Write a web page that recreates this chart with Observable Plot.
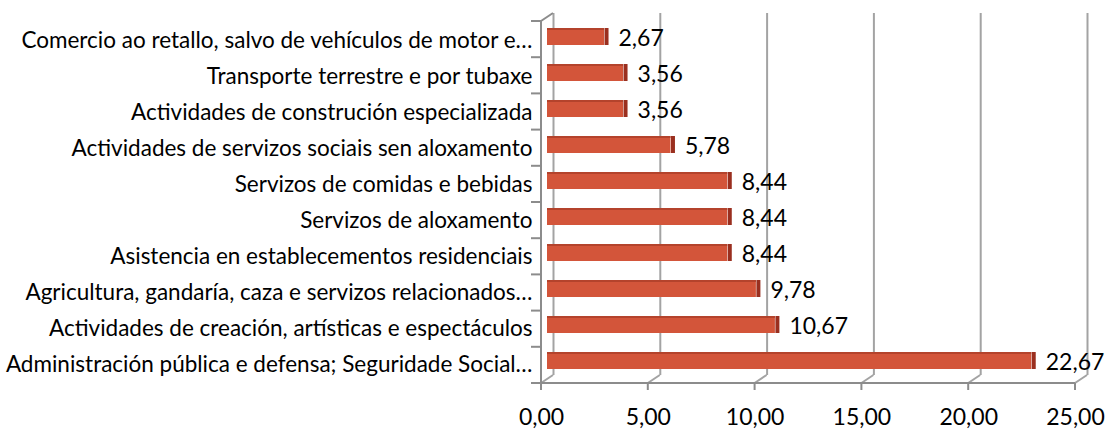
<!DOCTYPE html>
<html>
<head>
<meta charset="utf-8">
<script src="https://cdn.jsdelivr.net/npm/d3@7"></script>
<script src="https://cdn.jsdelivr.net/npm/@observablehq/plot@0.6"></script>
<style>
  html, body { margin: 0; padding: 0; background: #fff; }
  #chart svg { display: block; }
</style>
</head>
<body>
<div id="chart"></div>
<script>
// Sectors, top to bottom
const categories = [
  "Comercio ao retallo, salvo de vehículos de motor e…",
  "Transporte terrestre e por tubaxe",
  "Actividades de construción especializada",
  "Actividades de servizos sociais sen aloxamento",
  "Servizos de comidas e bebidas",
  "Servizos de aloxamento",
  "Asistencia en establecementos residenciais",
  "Agricultura, gandaría, caza e servizos relacionados…",
  "Actividades de creación, artísticas e espectáculos",
  "Administración pública e defensa; Seguridade Social…"
];
const values = [2.67, 3.56, 3.56, 5.78, 8.44, 8.44, 8.44, 9.78, 10.67, 22.67];
const xTicks = [0, 5, 10, 15, 20, 25];

const rows = categories.map((c, i) => ({category: c, value: values[i]}));

// Decimal comma formatting
const locale = d3.formatLocale({decimal: ",", thousands: ".", grouping: [3], currency: ["", " €"]});
const fmt = locale.format(".2f");

// Depth of the pseudo-3D box (back wall offset) and of the bars (half way)
const DEPTH_X = 12, DEPTH_Y = -8;
const BAR_DX = 6, BAR_DY = -4;
const GRID = "#a3a3a3";
const EDGE = "#8c8c8c";

// Left wall, floor edge, grid bends and tick marks drawn from the scales
function box3d(index, scales, values, dims) {
  const x = scales.x;
  const top = dims.marginTop;
  const bottom = dims.height - dims.marginBottom;
  const x0 = x(xTicks[0]);
  const x1 = x(xTicks[xTicks.length - 1]);
  const g = d3.create("svg:g").attr("fill", "none").attr("stroke-linejoin", "round");
  for (const t of xTicks) {
    // floor bend: back wall gridline foot to the front edge
    g.append("path")
      .attr("d", `M${x(t) + DEPTH_X},${bottom + DEPTH_Y}L${x(t)},${bottom}`)
      .attr("stroke", GRID).attr("stroke-width", 2);
    // tick below the front edge
    g.append("path")
      .attr("d", `M${x(t)},${bottom}L${x(t)},${bottom + 7}`)
      .attr("stroke", EDGE).attr("stroke-width", 2);
  }
  // front edge of the floor
  g.append("path")
    .attr("d", `M${x0},${bottom}L${x1},${bottom}`)
    .attr("stroke", EDGE).attr("stroke-width", 2);
  // front edge of the left wall with its top bend
  g.append("path")
    .attr("d", `M${x0 + DEPTH_X},${top + DEPTH_Y}L${x0},${top}L${x0},${bottom}`)
    .attr("stroke", EDGE).attr("stroke-width", 2);
  // category ticks on the band boundaries
  const step = (bottom - top) / categories.length;
  for (let i = 0; i <= categories.length; ++i) {
    const yy = top + i * step;
    g.append("path")
      .attr("d", `M${x0 - 10},${yy}L${x0},${yy}`)
      .attr("stroke", EDGE).attr("stroke-width", 2);
  }
  return g.node();
}

const chart = Plot.plot({
  width: 1110,
  height: 430,
  marginLeft: 541,
  marginRight: 35,
  marginTop: 21,
  marginBottom: 47,
  style: {fontFamily: "Lato, 'Open Sans', sans-serif", fontSize: "22.5px", color: "#000", background: "#fff"},
  x: {domain: [0, 25]},
  y: {domain: categories, paddingInner: 0.53, paddingOuter: 0.265, label: null},
  marks: [
    // back wall gridlines
    Plot.ruleX(xTicks, {dx: DEPTH_X, dy: DEPTH_Y, stroke: GRID, strokeWidth: 2}),
    box3d,
    // bars: front face, darker top rim, shaded end face
    Plot.barX(rows, {x: "value", y: "category", fill: "#d3553a", dx: BAR_DX, dy: BAR_DY}),
    Plot.barX(rows, {x: "value", y: "category", fill: "#b4432c", dx: BAR_DX, dy: BAR_DY, insetBottom: 15}),
    Plot.tickX(rows, {x: "value", y: "category", stroke: "#9a2f1f", strokeWidth: 4, dx: BAR_DX + 2, dy: BAR_DY}),
    Plot.text(rows, {x: "value", y: "category", text: d => fmt(d.value), textAnchor: "start", dx: 20, dy: -2, fontSize: 23, fill: "#000"}),
    Plot.axisX(xTicks, {tickSize: 0, tickPadding: 25, tickFormat: fmt, fontSize: 23, label: null}),
    Plot.axisY({tickSize: 0, tickPadding: 9, fontSize: 22.5, label: null, textOverflow: null, lineWidth: Infinity})
  ]
});

document.getElementById("chart").append(chart);
</script>
</body>
</html>
